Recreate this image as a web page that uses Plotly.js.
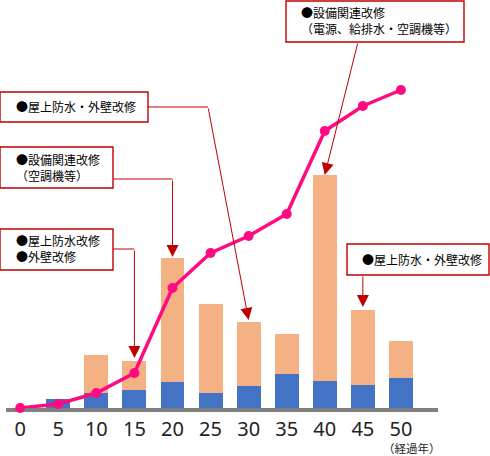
<!DOCTYPE html>
<html>
<head>
<meta charset="utf-8">
<script src="https://cdn.plot.ly/plotly-3.0.1.min.js"></script>
<style>
html,body{margin:0;padding:0;background:#fff;}
#chart{width:490px;height:456px;}
</style>
</head>
<body>
<div id="chart"></div>
<script>
// ---- data ----
const years = [0, 5, 10, 15, 20, 25, 30, 35, 40, 45, 50];
const tickLabels = ["0", "5", "10", "15", "20", "25", "30", "35", "40", "45", "50"];
const blueValues = [0, 9, 15, 18, 26, 15, 22, 34, 27, 23, 30];
const orangeValues = [0, 0, 38, 29, 124, 89, 64, 40, 206, 75, 37];
const lineValues = [0, 4, 15, 35, 120, 155, 172, 194, 277, 302, 318];
const xAxisLabel = "（経過年）";
const calloutTexts = [
  "●屋上防水・外壁改修",
  "●設備関連改修<br>（空調機等）",
  "●屋上防水改修<br>●外壁改修",
  "●設備関連改修<br>（電源、給排水・空調機等）",
  "●屋上防水・外壁改修"
];
const calloutYears = [30, 20, 15, 40, 45];

// ---- layout geometry ----
const FW = 490, FH = 456;
const M = {l: 6, r: 52, t: 0, b: 48};
const PW = FW - M.l - M.r, PH = FH - M.t - M.b;
const xr = [-1.865, 54.87];
const yr = [0, 408];
const xp = px => (px - M.l) / PW;
const yp = py => 1 - (py - M.t) / PH;
const dx = x => M.l + (x - xr[0]) / (xr[1] - xr[0]) * PW;
const dy = y => M.t + PH - (y - yr[0]) / (yr[1] - yr[0]) * PH;
const totals = years.map((_, i) => blueValues[i] + orangeValues[i]);
const idx = y => years.indexOf(y);

const RED = '#C00000';
const boxes = [
  {x0: 0, x1: 148, y0: 92, y1: 122, tx: 14, ty: 107},
  {x0: 0, x1: 113, y0: 147, y1: 188, tx: 14, ty: 167},
  {x0: 0, x1: 113, y0: 229, y1: 270, tx: 14, ty: 248.5},
  {x0: 286, x1: 464, y0: 1, y1: 42, tx: 299, ty: 20},
  {x0: 347, x1: 489, y0: 244, y1: 275, tx: 360, ty: 259.5}
];

const shapes = [];
const annotations = [];
boxes.forEach((b, i) => {
  shapes.push({type: 'rect', xref: 'paper', yref: 'paper', layer: 'above',
    x0: xp(b.x0), x1: xp(b.x1), y0: yp(b.y1), y1: yp(b.y0),
    line: {color: RED, width: 1.4}, fillcolor: '#ffffff'});
  annotations.push({xref: 'paper', yref: 'paper', x: xp(b.tx), y: yp(b.ty),
    xanchor: 'left', yanchor: 'middle', align: 'left', showarrow: false,
    text: calloutTexts[i],
    font: {family: '"Noto Sans CJK JP", sans-serif', size: 12, color: '#000'}});
});

// connectors: horizontal segments then arrows
const tipGap = [2, 1, 3, 0, 3];
const tails = [
  {x: 208, y: 107, from: 148},          // diagonal to 30
  {x: null, y: 179, from: 113},         // vertical to 20
  {x: null, y: 249, from: 113},         // vertical to 15
  {x: 358, y: 42, from: null},          // diagonal to 40
  {x: null, y: 275, from: null}         // vertical to 45
];
calloutYears.forEach((yr_, i) => {
  const k = idx(yr_);
  const tipX = dx(years[k]);
  const tipY = dy(totals[k] + tipGap[i]);
  const t = tails[i];
  const tailX = (t.x === null) ? tipX : t.x;
  if (t.from !== null) {
    shapes.push({type: 'line', xref: 'paper', yref: 'paper', layer: 'above',
      x0: xp(t.from), x1: xp(tailX), y0: yp(t.y), y1: yp(t.y),
      line: {color: RED, width: 1}});
  }
  annotations.push({xref: 'x', yref: 'y', x: years[k], y: totals[k] + tipGap[i],
    text: '', showarrow: true, arrowhead: 2, arrowsize: 2.4, arrowwidth: 1,
    arrowcolor: RED, standoff: 0, ax: tailX - tipX, ay: t.y - tipY});
});

annotations.push({xref: 'paper', yref: 'paper', x: xp(412), y: yp(447.5),
  xanchor: 'center', yanchor: 'middle', showarrow: false, text: xAxisLabel,
  font: {family: '"Noto Sans CJK JP", sans-serif', size: 11.5, color: '#222'}});

const traces = [
  {type: 'bar', x: years, y: blueValues, marker: {color: '#4472C4'}, hoverinfo: 'skip'},
  {type: 'bar', x: years, y: orangeValues, marker: {color: '#F4B183'}, hoverinfo: 'skip'},
  {type: 'scatter', mode: 'lines+markers', x: years, y: lineValues, cliponaxis: false,
   line: {color: '#FF0A80', width: 3.5}, marker: {color: '#FF0A80', size: 10}, hoverinfo: 'skip'}
];

const layout = {
  width: FW, height: FH,
  margin: M,
  paper_bgcolor: '#fff', plot_bgcolor: '#fff',
  showlegend: false,
  barmode: 'stack', bargap: 0.37,
  xaxis: {range: xr, tickvals: years, ticktext: tickLabels, showgrid: false, zeroline: false,
    showline: true, linecolor: '#808080', linewidth: 4, layer: 'below traces', ticks: '',
    tickfont: {family: '"Noto Sans", sans-serif', size: 20, color: '#222'}, fixedrange: true},
  yaxis: {range: yr, visible: false, showgrid: false, zeroline: false, fixedrange: true},
  shapes: shapes,
  annotations: annotations
};

Plotly.newPlot('chart', traces, layout, {staticPlot: true, displayModeBar: false});
</script>
</body>
</html>
